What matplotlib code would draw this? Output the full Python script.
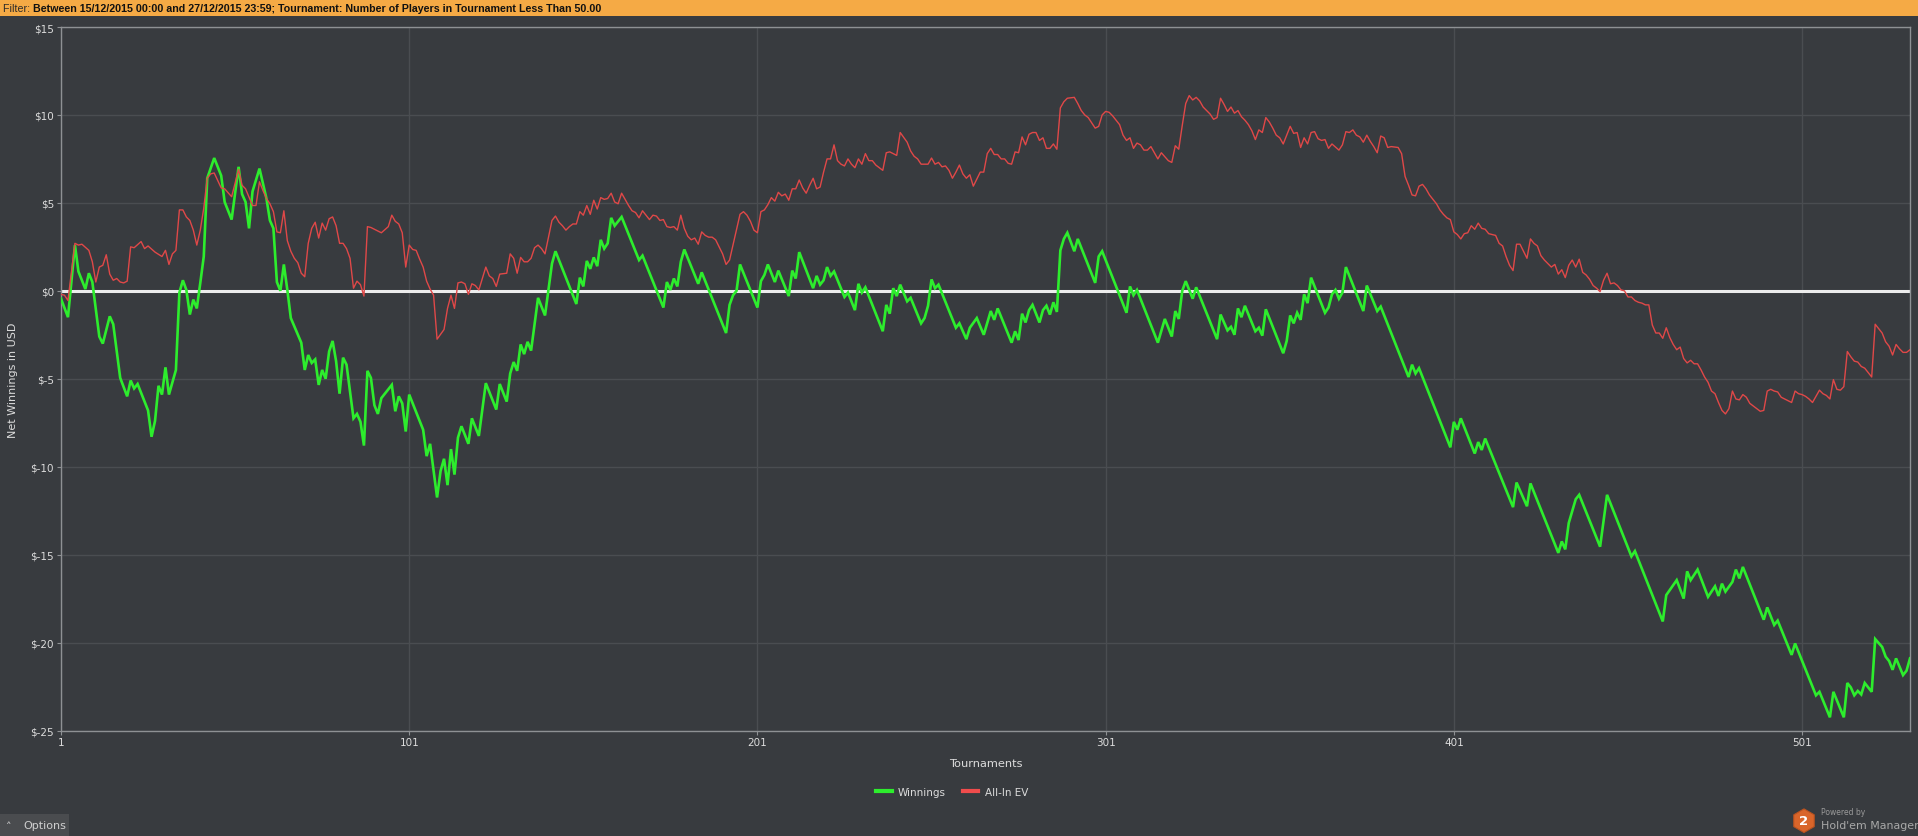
import matplotlib
matplotlib.use("Agg")
import matplotlib.pyplot as plt
from matplotlib.lines import Line2D
from matplotlib.patches import Rectangle, RegularPolygon
from matplotlib.ticker import FuncFormatter, FixedLocator

# ---------------- data ----------------
winnings_t = [1, 3, 5, 6, 8, 9, 10, 12, 13, 15, 16, 18, 20, 21, 22, 23, 26, 27, 28, 29, 30, 31, 32, 34,
              35, 36, 37, 38, 39, 40, 41, 42, 43, 45, 47, 48, 50, 52, 53, 54, 55, 56, 58, 60, 61, 62,
              63, 64, 65, 66, 67, 70, 71, 72, 73, 74, 75, 76, 77, 78, 79, 80, 81, 82, 83, 85, 86, 87,
              88, 89, 90, 91, 92, 93, 96, 97, 98, 99, 100, 101, 105, 106, 107, 109, 110, 111, 112, 113,
              114, 115, 116, 118, 119, 121, 123, 126, 127, 129, 130, 131, 132, 133, 134, 135, 136, 138,
              140, 142, 143, 149, 150, 151, 152, 153, 154, 155, 156, 157, 158, 159, 160, 162, 167, 168,
              174, 175, 176, 177, 178, 179, 180, 184, 185, 192, 193, 194, 195, 196, 201, 202, 203, 204,
              206, 207, 210, 211, 212, 213, 217, 218, 219, 220, 221, 222, 223, 226, 227, 229, 230, 231,
              232, 237, 238, 239, 240, 241, 242, 244, 245, 248, 249, 250, 251, 252, 253, 258, 259, 261,
              262, 264, 266, 268, 269, 270, 274, 275, 276, 277, 278, 279, 280, 282, 283, 284, 285, 286,
              287, 288, 289, 290, 292, 293, 298, 299, 300, 307, 308, 309, 310, 316, 318, 320, 321, 322,
              323, 324, 326, 327, 333, 334, 336, 337, 338, 339, 340, 341, 344, 345, 346, 347, 352, 353,
              354, 355, 356, 357, 358, 359, 360, 364, 365, 366, 367, 368, 369, 370, 375, 376, 379, 380,
              388, 389, 390, 391, 400, 401, 402, 403, 407, 408, 409, 410, 418, 419, 422, 423, 431, 432,
              433, 434, 436, 437, 443, 445, 452, 453, 461, 462, 465, 467, 468, 469, 471, 474, 476, 477,
              478, 479, 481, 482, 483, 484, 490, 491, 493, 494, 498, 499, 505, 506, 509, 510, 513, 514,
              515, 516, 517, 518, 519, 521, 522, 524, 525, 526, 527, 528, 530, 531, 532]
winnings_usd = [-0.45, -1.5, 2.6, 1.1, 0.1, 1.0, 0.5, -2.6, -3.0, -1.45, -1.9, -4.95, -6.0, -5.1, -5.55,
                -5.3, -6.8, -8.3, -7.4, -5.4, -5.9, -4.35, -5.9, -4.5, -0.1, 0.6, 0.05, -1.35, -0.5, -1.0,
                0.45, 1.95, 6.4, 7.55, 6.55, 5.05, 4.05, 7.05, 5.5, 5.05, 3.55, 5.65, 6.95, 5.25, 4.0,
                3.55, 0.5, 0.0, 1.5, 0.05, -1.55, -2.95, -4.5, -3.65, -4.1, -3.9, -5.35, -4.5, -5.0,
                -3.45, -2.85, -4.0, -5.85, -3.8, -4.2, -7.25, -7.0, -7.45, -8.8, -4.55, -4.95, -6.5,
                -7.0, -6.1, -5.35, -6.85, -6.0, -6.4, -8.0, -5.9, -7.9, -9.4, -8.7, -11.75, -10.25,
                -9.55, -11.05, -9.0, -10.45, -8.35, -7.7, -8.7, -7.25, -8.25, -5.25, -6.75, -5.3, -6.3,
                -4.7, -4.05, -4.55, -3.05, -3.6, -2.9, -3.4, -0.4, -1.4, 1.55, 2.25, -0.75, 0.75, 0.25,
                1.7, 1.25, 1.9, 1.4, 2.9, 2.4, 2.7, 4.15, 3.7, 4.2, 1.75, 2.0, -0.95, 0.5, 0.05, 0.7,
                0.25, 1.65, 2.35, 0.4, 1.05, -2.4, -0.8, -0.25, 0.0, 1.5, -0.95, 0.55, 0.9, 1.5, 0.5,
                1.15, -0.3, 1.15, 0.7, 2.2, 0.15, 0.85, 0.35, 0.6, 1.35, 0.85, 1.1, -0.35, -0.1, -1.1,
                0.4, -0.1, 0.2, -2.3, -0.8, -1.3, 0.15, -0.3, 0.35, -0.6, -0.4, -1.85, -1.55, -0.85,
                0.65, 0.15, 0.35, -2.1, -1.85, -2.75, -2.1, -1.55, -2.5, -1.15, -1.65, -1.0, -2.95,
                -2.3, -2.8, -1.3, -1.8, -1.1, -0.8, -1.8, -1.1, -0.85, -1.35, -0.65, -1.2, 2.3, 2.95,
                3.3, 2.25, 2.95, 0.45, 1.95, 2.25, -1.25, 0.25, -0.25, 0.05, -2.95, -1.6, -2.6, -1.15,
                -1.6, 0.0, 0.55, -0.45, 0.2, -2.75, -1.35, -2.25, -2.05, -2.5, -1.0, -1.5, -0.85, -2.3,
                -2.1, -2.55, -1.05, -3.55, -2.85, -1.4, -1.85, -1.25, -1.65, -0.2, -0.7, 0.75, -1.25,
                -0.95, -0.2, 0.05, -0.45, -0.1, 1.35, -1.15, 0.3, -1.15, -0.9, -4.9, -4.2, -4.7, -4.4,
                -8.9, -7.45, -7.9, -7.25, -9.25, -8.6, -9.05, -8.4, -12.3, -10.9, -12.25, -10.95,
                -14.9, -14.25, -14.7, -13.2, -11.85, -11.6, -14.55, -11.6, -15.1, -14.8, -18.8, -17.3,
                -16.45, -17.5, -15.95, -16.45, -15.85, -17.4, -16.8, -17.35, -16.65, -17.1, -16.55,
                -15.85, -16.35, -15.7, -18.7, -18.0, -19.0, -18.75, -20.7, -20.05, -23.0, -22.8,
                -24.25, -22.8, -24.25, -22.3, -22.55, -23.0, -22.75, -22.95, -22.3, -22.8, -19.8,
                -20.25, -20.8, -21.05, -21.55, -20.9, -21.85, -21.6, -20.9]

allin_t = [1, 2, 3, 5, 6, 7, 9, 10, 11, 12, 13, 14, 15, 16, 17, 18, 19, 20, 21, 22, 24, 25, 26, 28, 30,
           31, 32, 33, 34, 35, 36, 37, 38, 39, 40, 41, 42, 43, 44, 45, 47, 48, 50, 52, 53, 54, 56, 57,
           58, 59, 60, 61, 62, 63, 64, 65, 66, 67, 68, 69, 70, 71, 72, 73, 74, 75, 76, 77, 78, 79, 80,
           81, 82, 83, 84, 85, 86, 87, 88, 89, 90, 92, 93, 95, 96, 97, 98, 99, 100, 101, 102, 103, 104,
           105, 106, 107, 108, 109, 111, 112, 113, 114, 115, 116, 117, 118, 119, 120, 121, 123, 124,
           125, 126, 127, 129, 130, 131, 132, 133, 134, 135, 136, 137, 138, 139, 140, 142, 143, 144,
           145, 146, 147, 148, 149, 150, 151, 152, 153, 154, 155, 156, 157, 158, 159, 160, 161, 162,
           164, 165, 166, 167, 168, 169, 170, 171, 172, 173, 174, 175, 176, 177, 178, 179, 180, 181,
           182, 183, 184, 185, 186, 187, 188, 189, 190, 191, 192, 193, 196, 197, 198, 199, 200, 201,
           202, 203, 204, 205, 206, 207, 208, 209, 210, 211, 212, 213, 214, 215, 216, 217, 218, 219,
           220, 221, 222, 223, 224, 225, 226, 227, 228, 229, 230, 231, 232, 233, 234, 235, 237, 238,
           239, 241, 242, 244, 245, 246, 247, 248, 249, 250, 251, 252, 253, 254, 255, 256, 257, 258,
           259, 260, 261, 262, 263, 264, 265, 266, 267, 268, 269, 270, 271, 272, 273, 274, 275, 276,
           277, 278, 279, 280, 281, 282, 283, 284, 285, 286, 287, 288, 289, 290, 292, 293, 294, 295,
           296, 297, 298, 299, 300, 301, 302, 303, 305, 306, 307, 308, 309, 310, 311, 312, 313, 314,
           316, 317, 319, 320, 321, 322, 323, 324, 325, 326, 327, 328, 329, 330, 331, 332, 333, 334,
           335, 336, 337, 338, 339, 340, 341, 342, 343, 344, 345, 346, 347, 348, 349, 350, 351, 352,
           354, 355, 356, 357, 358, 359, 360, 361, 362, 363, 364, 365, 366, 368, 369, 370, 371, 372,
           373, 374, 375, 376, 377, 378, 379, 380, 381, 382, 383, 385, 386, 387, 388, 389, 390, 391,
           392, 393, 394, 395, 396, 397, 398, 399, 400, 401, 402, 403, 404, 405, 406, 407, 408, 409,
           410, 411, 413, 414, 415, 416, 417, 418, 419, 420, 422, 423, 424, 425, 426, 427, 428, 429,
           430, 431, 432, 433, 434, 435, 436, 437, 438, 439, 440, 441, 442, 443, 444, 445, 446, 447,
           448, 449, 450, 451, 452, 453, 454, 455, 456, 457, 458, 459, 460, 461, 462, 463, 464, 465,
           466, 467, 468, 469, 470, 471, 472, 473, 474, 475, 476, 477, 478, 479, 480, 481, 482, 483,
           484, 485, 486, 487, 488, 489, 490, 491, 492, 493, 494, 495, 496, 497, 498, 499, 500, 501,
           502, 503, 504, 505, 506, 507, 508, 509, 510, 511, 512, 513, 514, 515, 516, 517, 518, 519,
           520, 521, 522, 523, 524, 525, 526, 527, 528, 529, 530, 531, 532]
allin_usd = [-0.2, -0.25, -0.55, 2.7, 2.6, 2.65, 2.3, 1.65, 0.5, 1.35, 1.45, 2.05, 0.95, 0.6, 0.7, 0.5,
             0.45, 0.55, 2.5, 2.45, 2.8, 2.4, 2.55, 2.2, 1.95, 2.3, 1.5, 2.1, 2.3, 4.6, 4.6, 4.2, 4.0,
             3.45, 2.6, 3.45, 4.7, 6.4, 6.65, 6.7, 5.85, 5.8, 5.35, 6.9, 6.0, 5.8, 4.85, 4.85, 6.2,
             5.7, 5.25, 4.95, 4.5, 3.35, 3.3, 4.55, 2.85, 2.25, 1.85, 1.6, 1.0, 0.8, 2.7, 3.55, 3.9,
             3.0, 3.85, 3.45, 4.1, 4.2, 3.7, 2.7, 2.7, 2.4, 1.85, 0.15, 0.55, 0.35, -0.3, 3.65, 3.6,
             3.4, 3.3, 3.65, 4.3, 3.95, 3.8, 3.3, 1.35, 2.6, 2.35, 2.3, 1.8, 1.35, 0.55, 0.1, -0.25,
             -2.75, -2.2, -1.0, -0.25, -1.0, 0.45, 0.5, 0.4, -0.2, 0.4, 0.3, 0.05, 1.35, 0.85, 0.7,
             0.25, 0.95, 1.0, 2.1, 1.85, 1.0, 1.9, 1.65, 1.65, 1.85, 2.45, 2.6, 2.4, 2.1, 4.0, 4.25,
             3.9, 3.7, 3.45, 3.65, 3.8, 3.8, 4.5, 4.3, 4.85, 4.35, 5.15, 4.65, 5.3, 5.2, 5.25, 5.55,
             5.05, 4.95, 5.55, 4.85, 4.55, 4.45, 4.15, 4.55, 4.3, 4.05, 4.3, 4.25, 4.0, 4.05, 3.65,
             3.6, 3.65, 3.45, 4.3, 3.55, 3.1, 2.9, 3.0, 2.65, 3.35, 3.15, 3.05, 3.05, 2.9, 2.5, 2.1,
             1.5, 1.75, 4.35, 4.5, 4.3, 3.95, 3.45, 3.3, 4.5, 4.6, 4.9, 5.3, 5.1, 5.6, 5.4, 5.5, 5.15,
             5.8, 5.8, 6.3, 5.85, 5.55, 6.0, 6.4, 5.8, 5.9, 6.75, 7.5, 7.5, 8.3, 7.4, 7.2, 7.1, 7.5,
             7.2, 7.0, 7.5, 7.2, 7.8, 7.4, 7.4, 7.15, 6.85, 7.85, 7.9, 7.7, 9.0, 8.45, 7.95, 7.65, 7.5,
             7.2, 7.2, 7.2, 7.55, 7.2, 7.3, 7.05, 7.1, 6.85, 6.4, 6.75, 7.15, 6.65, 6.4, 6.6, 5.95,
             6.35, 6.75, 6.75, 7.8, 8.1, 7.75, 7.75, 7.5, 7.5, 7.25, 7.2, 7.9, 7.85, 8.75, 8.3, 8.9,
             9.0, 9.0, 8.55, 8.7, 8.1, 8.1, 8.35, 8.05, 10.4, 10.75, 10.95, 11.0, 10.65, 10.25, 10.0,
             9.85, 9.55, 9.25, 9.35, 10.0, 10.2, 10.15, 9.95, 9.45, 8.85, 8.55, 8.7, 8.1, 8.4, 8.3,
             8.0, 8.0, 8.2, 7.5, 7.85, 7.4, 7.3, 8.25, 8.05, 9.4, 10.65, 11.1, 10.85, 11.0, 10.8,
             10.45, 10.25, 10.05, 9.75, 9.85, 10.95, 10.6, 10.2, 10.45, 10.1, 10.25, 9.9, 9.7, 9.45,
             9.1, 8.6, 9.15, 9.0, 9.85, 9.6, 9.25, 8.85, 8.7, 8.35, 9.35, 8.95, 9.0, 8.15, 8.7, 8.35,
             9.0, 9.05, 8.65, 8.55, 8.6, 8.1, 8.35, 8.0, 8.3, 9.05, 9.0, 9.15, 8.85, 8.75, 8.45, 8.85,
             8.5, 8.2, 7.85, 8.8, 8.7, 8.15, 8.2, 8.15, 7.8, 6.5, 6.0, 5.45, 5.4, 5.95, 6.05, 5.8,
             5.45, 5.2, 4.95, 4.6, 4.35, 4.15, 4.05, 3.35, 3.2, 2.95, 3.25, 3.3, 3.7, 3.5, 3.85, 3.55,
             3.5, 3.25, 3.15, 2.7, 2.55, 1.95, 1.45, 1.15, 2.65, 2.65, 1.85, 2.95, 2.7, 2.55, 2.0,
             1.75, 1.55, 1.35, 1.5, 0.95, 1.2, 0.75, 1.45, 1.75, 1.35, 1.8, 1.05, 0.9, 0.65, 0.3,
             0.15, -0.05, 0.6, 1.0, 0.4, 0.45, 0.3, 0.05, 0.0, -0.35, -0.35, -0.55, -0.65, -0.7, -0.8,
             -0.8, -1.95, -2.4, -2.4, -2.7, -2.1, -2.65, -3.05, -3.35, -3.2, -3.85, -4.1, -3.95, -4.15,
             -4.15, -4.5, -4.9, -5.2, -5.7, -5.85, -6.35, -6.8, -7.0, -6.7, -5.7, -6.15, -6.2, -5.9,
             -6.05, -6.4, -6.55, -6.7, -6.85, -6.8, -5.7, -5.6, -5.7, -5.75, -6.05, -6.15, -6.25,
             -6.35, -5.7, -5.85, -5.9, -6.0, -6.15, -6.35, -6.0, -5.65, -5.85, -5.95, -6.15, -5.05,
             -5.6, -5.65, -5.45, -3.45, -3.75, -4.0, -4.05, -4.3, -4.4, -4.65, -4.9, -1.9, -2.15,
             -2.4, -2.9, -3.15, -3.65, -3.05, -3.3, -3.5, -3.5, -3.35]

x_ticks = [1, 101, 201, 301, 401, 501]
y_ticks = [15, 10, 5, 0, -5, -10, -15, -20, -25]
series_names = ["Winnings", "All-In EV"]
filter_label = "Filter: "
filter_text = ("Between 15/12/2015 00:00 and 27/12/2015 23:59; Tournament: "
               "Number of Players in Tournament Less Than 50.00")

# ---------------- style ----------------
BG = "#383b3f"
GRID = "#4a4d51"
SPINE = "#8e9194"
TXT = "#dcdcdc"
GREEN = "#2ded2d"
RED = "#e04848"
ORANGE = "#f5aa45"
FILTER_FONT = ["Liberation Sans", "DejaVu Sans"]

W, H = 1918, 837
fig = plt.figure(figsize=(W / 100, H / 100), dpi=100, facecolor=BG)

# filter bar
fig.add_artist(Rectangle((0, 1 - 17 / H), 1, 17 / H, transform=fig.transFigure,
                         facecolor=ORANGE, edgecolor="none", zorder=0))
t1 = fig.text(3 / W, 1 - 8.5 / H, filter_label, ha="left", va="center", fontsize=7.7,
              color="#2a2a2a", family=FILTER_FONT)
fig.add_artist(plt.Annotation(filter_text, xy=(1, 0.5), xycoords=t1, va="center", ha="left",
                              fontsize=7.7, fontweight="bold", color="#111111",
                              family=FILTER_FONT))

ax = fig.add_axes([61 / W, 1 - 731.5 / H, (1910 - 61) / W, (731.5 - 28) / H])
ax.set_facecolor(BG)

ax.axhline(0, color="#ececec", lw=2.2, zorder=2)
ax.plot(winnings_t, winnings_usd, color=GREEN, lw=1.9, zorder=3, solid_joinstyle="miter")
ax.plot(allin_t, allin_usd, color=RED, lw=1.0, zorder=4)

ax.set_xlim(1, 532)
ax.set_ylim(-25, 15)
ax.xaxis.set_major_locator(FixedLocator(x_ticks))
ax.yaxis.set_major_locator(FixedLocator(y_ticks))
ax.yaxis.set_major_formatter(FuncFormatter(lambda v, p: f"${int(round(v))}"))
ax.grid(True, color=GRID, lw=1.0, zorder=0)
ax.set_axisbelow(True)
for s in ax.spines.values():
    s.set_color(SPINE)
    s.set_linewidth(1.0)
ax.tick_params(axis="both", colors=SPINE, labelcolor=TXT, labelsize=7.5, length=3, width=0.8)
ax.tick_params(axis="x", pad=2)
ax.tick_params(axis="y", pad=2)

fig.text(986 / W, 1 - 764 / H, "Tournaments", ha="center", va="center", fontsize=8.2, color=TXT)
fig.text(13.5 / W, 1 - 380 / H, "Net Winnings in USD", ha="center", va="center", rotation=90,
         fontsize=8, color=TXT)

handles = [Line2D([], [], color=GREEN, lw=3.0), Line2D([], [], color="#f04c4c", lw=3.0)]
fig.legend(handles, series_names, loc="center", bbox_to_anchor=(952 / W, 1 - 793 / H), ncol=2,
           frameon=False, fontsize=7.5, labelcolor=TXT, handlelength=1.5, handletextpad=0.6,
           columnspacing=1.6)

# Options button
fig.add_artist(Rectangle((0, 0), 69 / W, 22 / H, transform=fig.transFigure,
                         facecolor="#4a4c4f", edgecolor="none"))
fig.text(9 / W, 10 / H, "\u02c4", ha="center", va="center", fontsize=8, color="#cfcfcf")
fig.text(23 / W, 11 / H, "Options", ha="left", va="center", fontsize=8, color="#cfcfcf")

# Powered by logo
fig.add_artist(RegularPolygon((1804 / 100, 15.3 / 100), numVertices=6, radius=0.118,
                              transform=fig.dpi_scale_trans, facecolor="#d9652a",
                              edgecolor="#b9521f", lw=0.8))
fig.text(1804 / W, 15.3 / H, "2", ha="center", va="center", fontsize=9.5, fontweight="bold",
         color="white")
fig.text(1821 / W, 1 - 813 / H, "Powered by", ha="left", va="center", fontsize=5.5, color="#9a9a9a")
fig.text(1821 / W, 1 - 826 / H, "Hold'em Manager", ha="left", va="center", fontsize=7.9,
         color="#a8a8a8")

fig.savefig("out.png", dpi=100, facecolor=BG)
